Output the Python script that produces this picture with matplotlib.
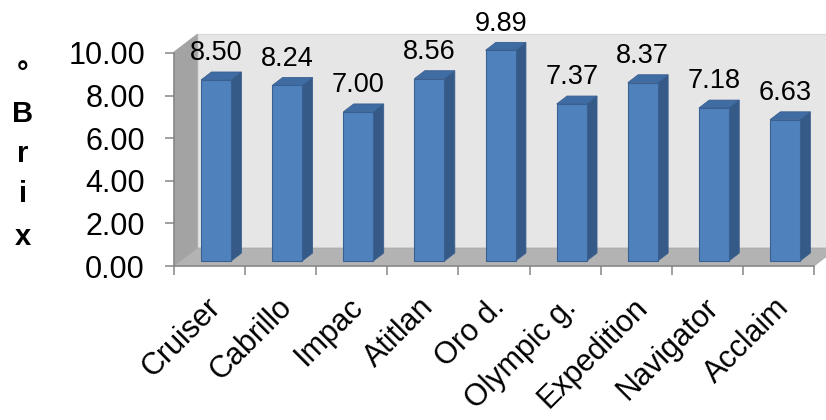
import matplotlib
matplotlib.use("Agg")
import matplotlib.pyplot as plt
from matplotlib.patches import Polygon
import matplotlib.transforms as mtransforms
import numpy as np

plt.rcParams['font.family'] = ['Liberation Sans', 'DejaVu Sans']

categories = ["Cruiser", "Cabrillo", "Impac", "Atitlan", "Oro d.",
              "Olympic g.", "Expedition", "Navigator", "Acclaim"]
brix = [8.50, 8.24, 7.00, 8.56, 9.89, 7.37, 8.37, 7.18, 6.63]
yticks = [0, 2, 4, 6, 8, 10]
ylabel_chars = ["°", "B", "r", "i", "x"]

W, H = 826, 420
fig = plt.figure(figsize=(W / 100, H / 100), dpi=100)
x0_px, x1_px, y0_px, y1_px = 174, 814, 266, 53
ax = fig.add_axes([x0_px / W, 1 - y0_px / H, (x1_px - x0_px) / W, (y0_px - y1_px) / H])
n = len(categories)
ax.set_xlim(-0.5, n - 0.5)
ax.set_ylim(0, 10)
ax.patch.set_visible(False)

# depth vector in data units
px_x = (x1_px - x0_px) / n
px_y = (y0_px - y1_px) / 10
DX, DY = 23.5 / px_x, 18.0 / px_y
f_front, f_back = 0.28, 0.72
ox, oy = DX * f_front, DY * f_front
ddx, ddy = DX * (f_back - f_front), DY * (f_back - f_front)
bw = 30 / px_x

xl, xr = -0.5, n - 0.5
top = 10 + 0.05
# back wall
ax.add_patch(Polygon([(xl + DX, DY), (xr + DX, DY), (xr + DX, top + DY), (xl + DX, top + DY)],
                     closed=True, facecolor="#e6e6e6", edgecolor="#d9d9d9", lw=0.8,
                     clip_on=False, zorder=1))
# side wall
ax.add_patch(Polygon([(xl, 0), (xl + DX, DY), (xl + DX, top + DY), (xl, top)],
                     closed=True, facecolor="#a3a3a3", edgecolor="#a3a3a3", lw=0.5,
                     clip_on=False, zorder=1.1))
# floor
ax.add_patch(Polygon([(xl, 0), (xr, 0), (xr + DX, DY), (xl + DX, DY)],
                     closed=True, facecolor="#b3b3b3", edgecolor="#a6a6a6", lw=0.5,
                     clip_on=False, zorder=1.2))

x = np.arange(n)
front_c = "#4f81bd"
side_c = "#355a88"
top_c = "#3f6ca3"
edge_c = "#3a6091"
ax.bar(x + ox, brix, width=bw, bottom=oy, color=front_c, edgecolor=edge_c,
       linewidth=0.8, zorder=3, clip_on=False)
for xi, v in zip(x, brix):
    lft = xi + ox - bw / 2
    rgt = xi + ox + bw / 2
    ax.add_patch(Polygon([(rgt, oy), (rgt + ddx, oy + ddy), (rgt + ddx, oy + ddy + v), (rgt, oy + v)],
                         closed=True, facecolor=side_c, edgecolor=edge_c, lw=0.6,
                         clip_on=False, zorder=2.9))
    ax.add_patch(Polygon([(lft, oy + v), (rgt, oy + v), (rgt + ddx, oy + v + ddy), (lft + ddx, oy + v + ddy)],
                         closed=True, facecolor=top_c, edgecolor=edge_c, lw=0.6,
                         clip_on=False, zorder=2.9))
    ax.text(xi + ox, v + oy + ddy + 0.55, f"{v:.2f}", ha="center", va="baseline",
            fontsize=19.5, color="black", zorder=5, clip_on=False)

# axes styling
for s in ["top", "right"]:
    ax.spines[s].set_visible(False)
axis_c = "#868686"
for s in ["left", "bottom"]:
    ax.spines[s].set_color(axis_c)
    ax.spines[s].set_linewidth(1.1)
    ax.spines[s].set_zorder(4)

ax.set_yticks(yticks)
ax.set_yticklabels([f"{t:.2f}" for t in yticks])
ax.tick_params(axis="y", length=6.5, width=1.1, color=axis_c, pad=14.4,
               labelsize=22, labelcolor="black")

ax.set_xticks(np.arange(n + 1) - 0.5)
ax.set_xticklabels([])
ax.set_xticks(x, minor=True)
ax.set_xticklabels(categories, minor=True)
ax.tick_params(axis="x", which="major", length=6.5, width=1.1, color=axis_c)
ax.tick_params(axis="x", which="minor", length=0, pad=19, labelsize=22, labelcolor="black")
shift = mtransforms.ScaledTranslation(-4 / 100, 0, fig.dpi_scale_trans)
for lab in ax.get_xticklabels(minor=True):
    lab.set_rotation(45)
    lab.set_ha("right")
    lab.set_va("top")
    lab.set_rotation_mode("anchor")
    lab.set_transform(lab.get_transform() + shift)

# vertical stacked y-axis title
ylab_base = [73.5, 121.7, 161.7, 201.7, 245]
for i, (ch, yb) in enumerate(zip(ylabel_chars, ylab_base)):
    fig.text(23 / W, 1 - yb / H, ch, ha="center", va="center" if i == 0 else "baseline",
             fontsize=21, fontweight="bold")

fig.savefig("out.png", dpi=100)
